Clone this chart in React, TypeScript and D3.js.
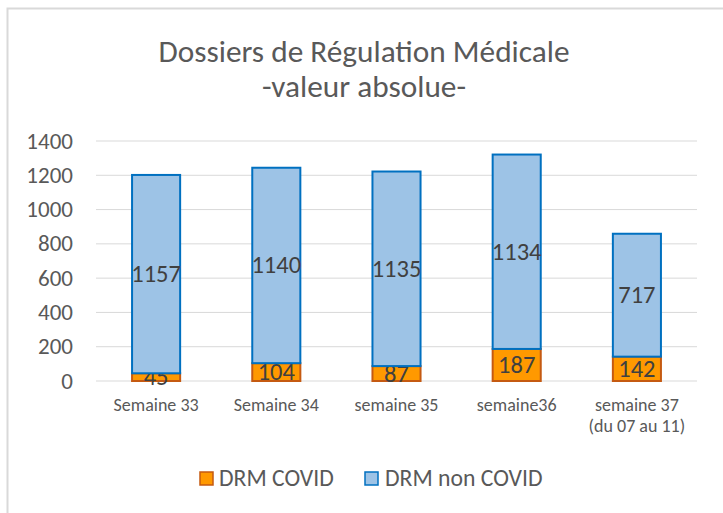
import React from "react";
import * as d3 from "d3";

const categories = ["Semaine 33", "Semaine 34", "semaine 35", "semaine36", "semaine 37\n(du 07 au 11)"];
const covid = [45, 104, 87, 187, 142];
const nonCovid = [1157, 1140, 1135, 1134, 717];
const yTicks = [0, 200, 400, 600, 800, 1000, 1200, 1400];
const seriesNames = ["DRM COVID", "DRM non COVID"];

const W = 723, H = 513;
const FONT = "Carlito, 'Open Sans', 'Noto Sans', sans-serif";

export default function App() {
  const x = d3.scaleBand<string>().domain(categories).range([96, 697]).paddingInner(0.6).paddingOuter(0.3);
  const y = d3.scaleLinear().domain([0, 1400]).range([381, 141]);
  const stacked = d3.stack<number>().keys(["c", "n"]).value((i, k) => (k === "c" ? covid[i] : nonCovid[i]))(d3.range(categories.length));
  const fills = ["#FF9900", "#9DC3E6"];
  const strokes = ["#C55A11", "#0070C0"];
  const vals = [covid, nonCovid];
  return (
    <svg width={W} height={H} style={{ position: "absolute", left: 0, top: 0, display: "block" }}>
      <rect x={0} y={0} width={W} height={H} fill="#fff" />
      <rect x={7.5} y={8.5} width={W + 20} height={H + 20} fill="none" stroke="#d9d9d9" strokeWidth={2} />
      <text x={364} y={62} textAnchor="middle" fontFamily={FONT} fontSize={31.3} fill="#595959">Dossiers de Régulation Médicale</text>
      <text x={364} y={97} textAnchor="middle" fontFamily={FONT} fontSize={31.3} fill="#595959">-valeur absolue-</text>
      {yTicks.map((t) => (
        <g key={t}>
          <line x1={96} x2={697} y1={y(t)} y2={y(t)} stroke="#d9d9d9" strokeWidth={1} />
          <text x={73} y={y(t) + 7.5} textAnchor="end" fontFamily={FONT} fontSize={23} fill="#595959">{t}</text>
        </g>
      ))}
      {stacked.map((s, si) =>
        s.map((d, i) => {
          const x0 = x(categories[i])!;
          const bw = x.bandwidth();
          return (
            <g key={si + "-" + i}>
              <rect x={x0} y={y(d[1])} width={bw} height={y(d[0]) - y(d[1])} fill={fills[si]} stroke={strokes[si]} strokeWidth={2} />
              <text x={x0 + bw / 2} y={(y(d[0]) + y(d[1])) / 2 + 8} textAnchor="middle" fontFamily={FONT} fontSize={24.5} fill="#404040">{vals[si][i]}</text>
            </g>
          );
        })
      )}
      {categories.map((c) => {
        const lines = c.split("\n");
        return (
          <text key={c} x={x(c)! + x.bandwidth() / 2} y={411} textAnchor="middle" fontFamily={FONT} fontSize={18} fill="#595959">
            {lines.map((l, li) => (
              <tspan key={li} x={x(c)! + x.bandwidth() / 2} dy={li === 0 ? 0 : 21}>{l}</tspan>
            ))}
          </text>
        );
      })}
      <g>
        <rect x={200} y={472} width={13} height={13} fill={fills[0]} stroke={strokes[0]} strokeWidth={1.5} />
        <text x={219} y={486} fontFamily={FONT} fontSize={23.7} fill="#595959">{seriesNames[0]}</text>
        <rect x={365} y={472} width={13} height={13} fill={fills[1]} stroke={strokes[1]} strokeWidth={1.5} />
        <text x={385} y={486} fontFamily={FONT} fontSize={23.7} fill="#595959">{seriesNames[1]}</text>
      </g>
    </svg>
  );
}
